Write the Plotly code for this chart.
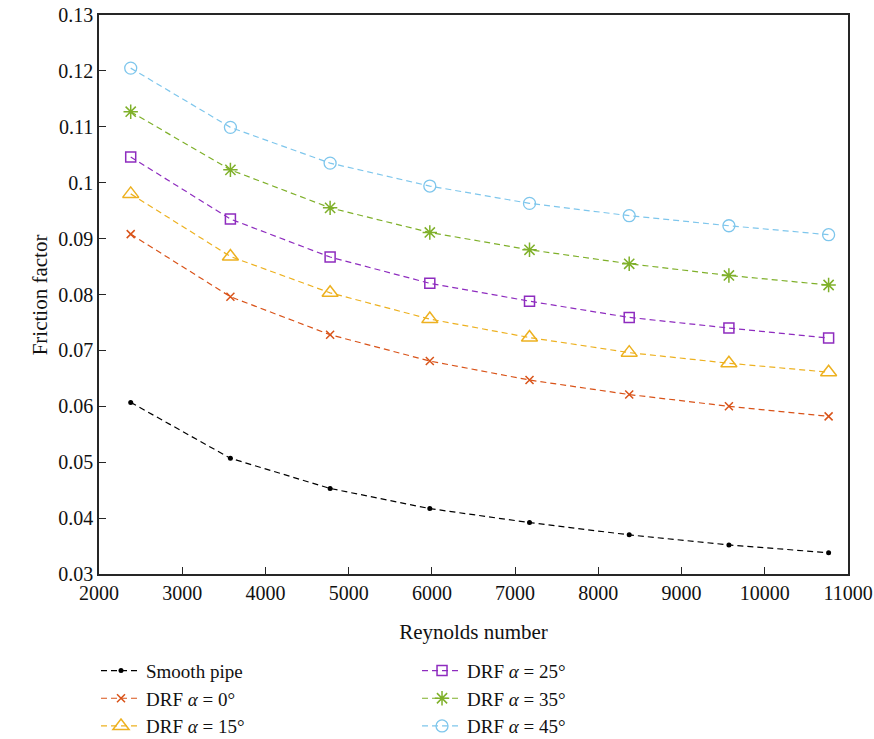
import plotly.graph_objects as go

reynolds = [2381, 3579, 4777, 5975, 7173, 8371, 9569, 10767]

smooth_pipe = [0.0607, 0.0507, 0.0453, 0.0417, 0.0392, 0.0370, 0.0352, 0.0338]
drf_0 = [0.0908, 0.0796, 0.0728, 0.0681, 0.0647, 0.0621, 0.0600, 0.0582]
drf_15 = [0.0980, 0.0868, 0.0803, 0.0756, 0.0723, 0.0696, 0.0677, 0.0661]
drf_25 = [0.1046, 0.0935, 0.0867, 0.0820, 0.0788, 0.0759, 0.0740, 0.0722]
drf_35 = [0.1127, 0.1023, 0.0955, 0.0911, 0.0880, 0.0855, 0.0834, 0.0817]
drf_45 = [0.1205, 0.1099, 0.1035, 0.0994, 0.0963, 0.0941, 0.0923, 0.0907]

series_names = ["Smooth pipe", "DRF <i>α</i> = 0°", "DRF <i>α</i> = 15°",
                "DRF <i>α</i> = 25°", "DRF <i>α</i> = 35°", "DRF <i>α</i> = 45°"]
series_values = [smooth_pipe, drf_0, drf_15, drf_25, drf_35, drf_45]

x_ticks = [2000, 3000, 4000, 5000, 6000, 7000, 8000, 9000, 10000, 11000]
x_tick_text = ["2000", "3000", "4000", "5000", "6000", "7000", "8000", "9000", "10000", "11000"]
y_ticks = [0.03, 0.04, 0.05, 0.06, 0.07, 0.08, 0.09, 0.10, 0.11, 0.12, 0.13]
y_tick_text = ["0.03", "0.04", "0.05", "0.06", "0.07", "0.08", "0.09", "0.1", "0.11", "0.12", "0.13"]

styles = [
    dict(color="#000000", symbol="circle", size=5, lw=0),
    dict(color="#D95319", symbol="x-thin-open", size=8, lw=1.5),
    dict(color="#EDB120", symbol="triangle-up-open", size=14, lw=1.5),
    dict(color="#8E2CBF", symbol="square-open", size=10, lw=1.5),
    dict(color="#7FB02A", symbol="asterisk-open", size=12, lw=1.5),
    dict(color="#7EC6EC", symbol="circle-open", size=12, lw=1.3),
]
legend_ids = ["legend", "legend", "legend", "legend2", "legend2", "legend2"]

FONT = "Liberation Serif"

fig = go.Figure()
for name, vals, st, lg in zip(series_names, series_values, styles, legend_ids):
    fig.add_trace(go.Scatter(
        x=reynolds, y=vals, name=name, mode="lines+markers",
        line=dict(color=st["color"], width=1.2, dash="6px,4px"),
        marker=dict(symbol=st["symbol"], size=st["size"], color=st["color"],
                    line=dict(color=st["color"], width=st["lw"])),
        legend=lg,
    ))

axis_common = dict(
    showline=True, linecolor="#262626", linewidth=1.5, mirror=True,
    ticks="inside", ticklen=7, tickwidth=1.3, tickcolor="#262626",
    showgrid=False, zeroline=False, automargin=False,
    tickfont=dict(family=FONT, size=20, color="#111"),
)

legend_common = dict(
    xanchor="left", yanchor="top",
    font=dict(family=FONT, size=19, color="#111"), bgcolor="rgba(0,0,0,0)",
    tracegroupgap=0, itemwidth=40,
)

fig.update_layout(
    width=874, height=739,
    margin=dict(l=99, r=26, t=15, b=165, autoexpand=False),
    paper_bgcolor="white", plot_bgcolor="white",
    font=dict(family=FONT, size=20, color="#111"),
    xaxis=dict(range=[2000, 11000], tickvals=x_ticks, ticktext=x_tick_text,
               title=dict(text="Reynolds number", font=dict(family=FONT, size=21), standoff=22),
               **axis_common),
    yaxis=dict(range=[0.03, 0.13], tickvals=y_ticks, ticktext=y_tick_text,
               **axis_common),
    legend=dict(x=-0.004, y=-0.139, **legend_common),
    legend2=dict(x=0.4246, y=-0.139, **legend_common),
    annotations=[dict(text="Friction factor", xref="paper", yref="paper",
                      x=-0.079, y=0.5, textangle=-90, showarrow=False,
                      xanchor="center", yanchor="middle",
                      font=dict(family=FONT, size=21, color="#111"))],
)

fig.write_html("out.html")
